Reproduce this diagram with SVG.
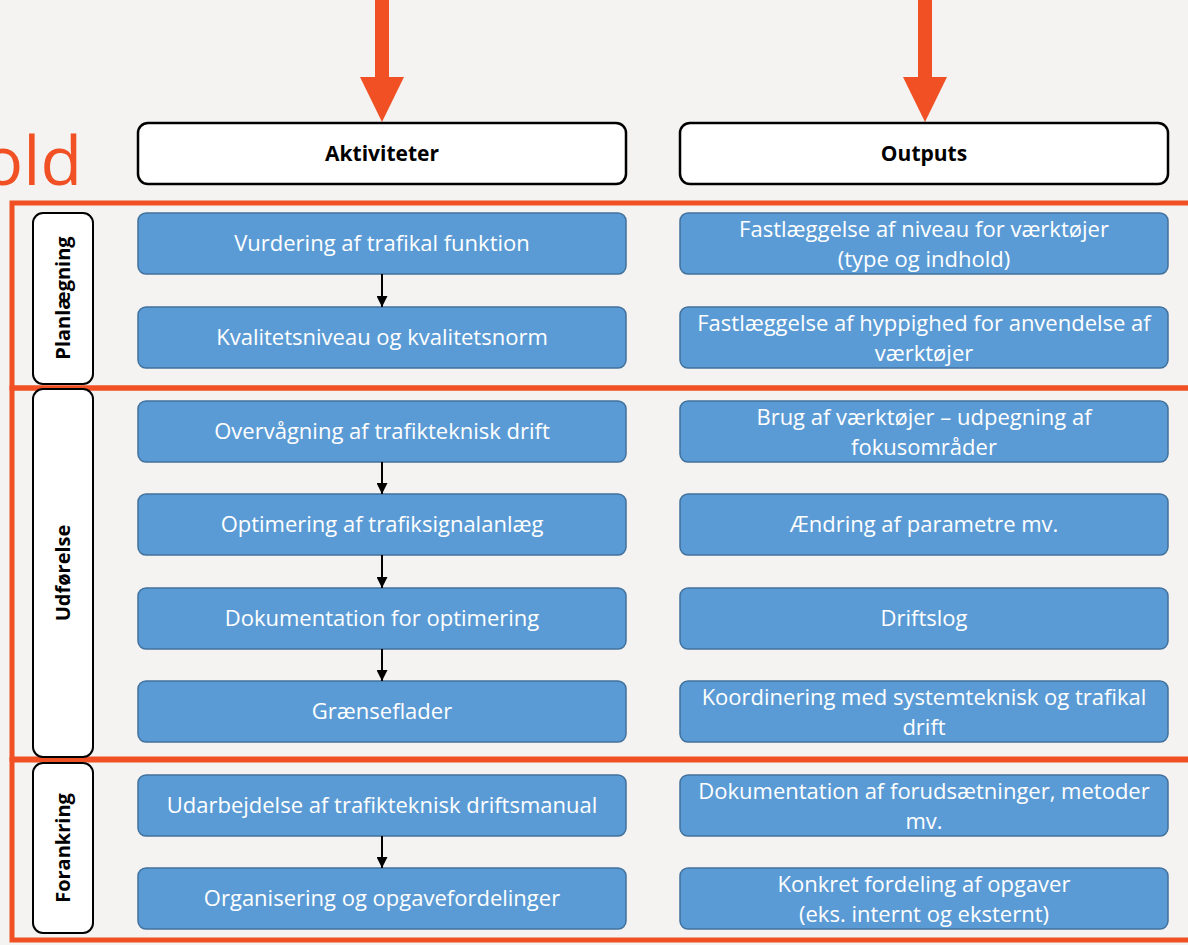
<svg xmlns="http://www.w3.org/2000/svg" width="1188" height="945" viewBox="0 0 1188 945">
<style>
.bg{fill:#f4f3f1}
.frame{fill:none;stroke:#f05023;stroke-width:5}
.big{fill:#f05023}
.hdr{fill:#fff;stroke:#000;stroke-width:2.5}
.hdrt{font-family:"Open Sans","Liberation Sans",sans-serif;font-weight:bold;font-size:21px;fill:#000;text-anchor:middle}
.side{fill:#fff;stroke:#000;stroke-width:2}
.sidet{font-family:"Open Sans","Liberation Sans",sans-serif;font-weight:bold;font-size:20px;fill:#000;text-anchor:middle}
.box{fill:#5b9bd5;stroke:#41719c;stroke-width:1.5}
.bt{font-family:"Open Sans","Liberation Sans",sans-serif;font-size:22px;fill:#fff;text-anchor:middle}
.conn{stroke:#000;stroke-width:2;fill:none}
.title{font-family:"Open Sans","Liberation Sans",sans-serif;font-weight:normal;font-size:68px;fill:#f05023;text-anchor:end}
</style>
<defs>
<marker id="ah" viewBox="0 0 10 10" refX="10" refY="5" markerWidth="5.5" markerHeight="5.5" orient="auto" markerUnits="strokeWidth">
<path d="M0,0 L10,5 L0,10 z" fill="#000"/>
</marker>
</defs>
<rect class="bg" x="0" y="0" width="1188" height="945"/>
<text class="title" x="82" y="185">old</text>
<g id="big-arrows">
<rect class="big" x="375" y="0" width="14" height="80"/>
<polygon class="big" points="360,77 404,77 382,122"/>
<rect class="big" x="918" y="0" width="14" height="80"/>
<polygon class="big" points="903,77 947,77 925,122"/>
</g>
<g id="frames">
<rect class="frame" x="12" y="203" width="1200" height="185"/>
<rect class="frame" x="12" y="388" width="1200" height="371"/>
<rect class="frame" x="12" y="760" width="1200" height="180"/>
</g>
<g id="hdr-aktiviteter"><rect class="hdr" x="138" y="123" width="488" height="61" rx="10"/><text class="hdrt" x="382" y="161">Aktiviteter</text></g>
<g id="hdr-outputs"><rect class="hdr" x="680" y="123" width="488" height="61" rx="10"/><text class="hdrt" x="924" y="161">Outputs</text></g>
<g id="side-planlaegning"><rect class="side" x="33" y="213" width="60" height="171" rx="10"/><text class="sidet" transform="translate(70,298) rotate(-90)">Planlægning</text></g>
<g id="side-udfoerelse"><rect class="side" x="33" y="389" width="60" height="368" rx="10"/><text class="sidet" transform="translate(70,573) rotate(-90)">Udførelse</text></g>
<g id="side-forankring"><rect class="side" x="33" y="763" width="60" height="170" rx="10"/><text class="sidet" transform="translate(70,848) rotate(-90)">Forankring</text></g>

<g id="a1"><rect class="box" x="138" y="213" width="488" height="61" rx="8"/><text class="bt" x="382" y="251">Vurdering af trafikal funktion</text></g>
<g id="a2"><rect class="box" x="138" y="307" width="488" height="61" rx="8"/><text class="bt" x="382" y="345">Kvalitetsniveau og kvalitetsnorm</text></g>
<g id="a3"><rect class="box" x="138" y="401" width="488" height="61" rx="8"/><text class="bt" x="382" y="439">Overvågning af trafikteknisk drift</text></g>
<g id="a4"><rect class="box" x="138" y="494" width="488" height="61" rx="8"/><text class="bt" x="382" y="532">Optimering af trafiksignalanlæg</text></g>
<g id="a5"><rect class="box" x="138" y="588" width="488" height="61" rx="8"/><text class="bt" x="382" y="626">Dokumentation for optimering</text></g>
<g id="a6"><rect class="box" x="138" y="681" width="488" height="61" rx="8"/><text class="bt" x="382" y="719">Grænseflader</text></g>
<g id="a7"><rect class="box" x="138" y="775" width="488" height="61" rx="8"/><text class="bt" x="382" y="813">Udarbejdelse af trafikteknisk driftsmanual</text></g>
<g id="a8"><rect class="box" x="138" y="868" width="488" height="61" rx="8"/><text class="bt" x="382" y="906">Organisering og opgavefordelinger</text></g>

<g id="o1"><rect class="box" x="680" y="213" width="488" height="61" rx="8"/><text class="bt" x="924" y="237">Fastlæggelse af niveau for værktøjer</text><text class="bt" x="924" y="267">(type og indhold)</text></g>
<g id="o2"><rect class="box" x="680" y="307" width="488" height="61" rx="8"/><text class="bt" x="924" y="331">Fastlæggelse af hyppighed for anvendelse af</text><text class="bt" x="924" y="361">værktøjer</text></g>
<g id="o3"><rect class="box" x="680" y="401" width="488" height="61" rx="8"/><text class="bt" x="924" y="425">Brug af værktøjer – udpegning af</text><text class="bt" x="924" y="455">fokusområder</text></g>
<g id="o4"><rect class="box" x="680" y="494" width="488" height="61" rx="8"/><text class="bt" x="924" y="532">Ændring af parametre mv.</text></g>
<g id="o5"><rect class="box" x="680" y="588" width="488" height="61" rx="8"/><text class="bt" x="924" y="626">Driftslog</text></g>
<g id="o6"><rect class="box" x="680" y="681" width="488" height="61" rx="8"/><text class="bt" x="924" y="705">Koordinering med systemteknisk og trafikal</text><text class="bt" x="924" y="735">drift</text></g>
<g id="o7"><rect class="box" x="680" y="775" width="488" height="61" rx="8"/><text class="bt" x="924" y="799">Dokumentation af forudsætninger, metoder</text><text class="bt" x="924" y="829">mv.</text></g>
<g id="o8"><rect class="box" x="680" y="868" width="488" height="61" rx="8"/><text class="bt" x="924" y="892">Konkret fordeling af opgaver</text><text class="bt" x="924" y="922">(eks. internt og eksternt)</text></g>

<g id="connectors">
<line class="conn" x1="382" y1="274" x2="382" y2="307" marker-end="url(#ah)"/>
<line class="conn" x1="382" y1="462" x2="382" y2="494" marker-end="url(#ah)"/>
<line class="conn" x1="382" y1="555" x2="382" y2="588" marker-end="url(#ah)"/>
<line class="conn" x1="382" y1="649" x2="382" y2="681" marker-end="url(#ah)"/>
<line class="conn" x1="382" y1="836" x2="382" y2="868" marker-end="url(#ah)"/>
</g>
</svg>
